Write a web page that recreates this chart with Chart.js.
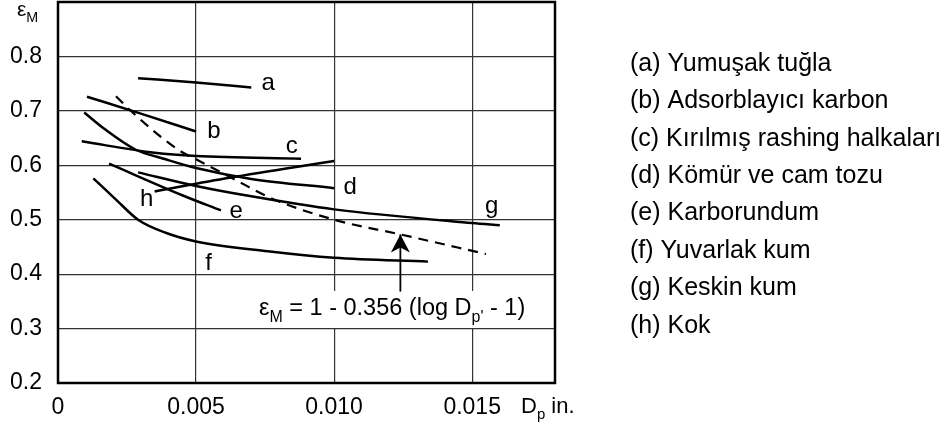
<!DOCTYPE html>
<html><head><meta charset="utf-8">
<script src="https://cdn.jsdelivr.net/npm/chart.js@4"></script>
<style>html,body{margin:0;padding:0;background:#fff;}#wrap{width:950px;height:430px;position:relative;}</style>
</head><body><div id="wrap"><canvas id="c"></canvas></div>
<script>
// ---- data ----
const xTicks = [0, 0.005, 0.010, 0.015];
const xTickLabels = ['0', '0.005', '0.010', '0.015'];
const yTicks = [0.2, 0.3, 0.4, 0.5, 0.6, 0.7, 0.8];
const yTickLabels = ['0.2', '0.3', '0.4', '0.5', '0.6', '0.7', '0.8'];

const aX = [0.0029, 0.0050, 0.0070];
const aY = [0.760, 0.752, 0.743];
const bX = [0.00105, 0.0030, 0.0050];
const bY = [0.726, 0.695, 0.662];
const cX = [0.00086, 0.0035, 0.0050, 0.0088];
const cY = [0.644, 0.623, 0.617, 0.612];
const dX = [0.00095, 0.0017, 0.0028, 0.0039, 0.0050, 0.0070, 0.0100];
const dY = [0.697, 0.666, 0.629, 0.611, 0.595, 0.575, 0.558];
const eX = [0.00185, 0.0045, 0.0059];
const eY = [0.603, 0.545, 0.517];
const fX = [0.00128, 0.0021, 0.0029, 0.0039, 0.0050, 0.0076, 0.0100, 0.0134];
const fY = [0.576, 0.537, 0.500, 0.476, 0.460, 0.442, 0.430, 0.423];
const gX = [0.0029, 0.0050, 0.0070, 0.0100, 0.0150, 0.0160];
const gY = [0.587, 0.562, 0.543, 0.519, 0.494, 0.490];
const hX = [0.0035, 0.0062, 0.0100];
const hY = [0.552, 0.577, 0.608];
const eqX = [0.0021, 0.0027, 0.0044, 0.0050, 0.0064, 0.0077, 0.0100, 0.0124, 0.0155];
const eqY = [0.727, 0.697, 0.627, 0.611, 0.574, 0.540, 0.500, 0.473, 0.437];

const curveNames = ['a', 'b', 'c', 'd', 'e', 'f', 'g', 'h'];
const labelX = [0.00761, 0.00565, 0.00847, 0.01058, 0.00645, 0.00545, 0.01571, 0.00321];
const labelY = [0.751, 0.662, 0.635, 0.559, 0.516, 0.420, 0.525, 0.538];
const legendLabels = ['(a) Yumuşak tuğla', '(b) Adsorblayıcı karbon', '(c) Kırılmış rashing halkaları',
  '(d) Kömür ve cam tozu', '(e) Karborundum', '(f) Yuvarlak kum', '(g) Keskin kum', '(h) Kok'];

const arrowX = [0.0124, 0.0124];
const arrowY = [0.368, 0.473];
const equationAnchor = [0.00728, 0.325];

// ---- chart ----
const FONT = '"Liberation Sans", Arial, sans-serif';
const pts = (xs, ys) => xs.map((x, i) => ({x: x, y: ys[i]}));
const solid = (name, xs, ys) => ({label: name, data: pts(xs, ys), borderColor: '#000', borderWidth: 2.5,
  pointRadius: 0, fill: false, cubicInterpolationMode: 'monotone', tension: 0.4});

const datasets = [
  solid('a', aX, aY), solid('b', bX, bY), solid('c', cX, cY), solid('d', dX, dY),
  solid('e', eX, eY), solid('f', fX, fY), solid('g', gX, gY), solid('h', hX, hY),
  Object.assign(solid('eq', eqX, eqY), {borderDash: [10, 7], borderWidth: 2.2}),
  Object.assign(solid('arrow', arrowX, arrowY), {borderWidth: 1.8, tension: 0})
];

function richText(ctx, parts, x, y, size) {
  let cx = x;
  for (const p of parts) {
    const s = p.sub ? size * 0.68 : size;
    ctx.font = s + 'px ' + FONT;
    ctx.fillText(p.t, cx, y + (p.sub ? size * 0.28 : 0));
    cx += ctx.measureText(p.t).width;
  }
  return cx;
}

const decor = {
  id: 'decor',
  beforeDatasetsDraw(chart) {
    const {ctx, scales: {x, y}} = chart;
    const ex = x.getPixelForValue(equationAnchor[0]);
    const ey = y.getPixelForValue(equationAnchor[1]);
    ctx.save();
    ctx.fillStyle = '#fff';
    ctx.fillRect(ex - 6, ey - 24, 278, 37);
    ctx.restore();
  },
  afterDatasetsDraw(chart) {
    const {ctx, chartArea: ca, scales: {x, y}} = chart;
    ctx.save();
    ctx.strokeStyle = '#000';
    ctx.lineWidth = 2.5;
    ctx.strokeRect(ca.left, ca.top, ca.right - ca.left, ca.bottom - ca.top);
    const ax = x.getPixelForValue(arrowX[1]);
    const ay = y.getPixelForValue(arrowY[1]);
    ctx.fillStyle = '#000';
    ctx.beginPath();
    ctx.moveTo(ax, ay);
    ctx.lineTo(ax + 9.5, ay + 18);
    ctx.lineTo(ax, ay + 13);
    ctx.lineTo(ax - 9.5, ay + 18);
    ctx.closePath();
    ctx.fill();
    ctx.fillStyle = '#000';
    ctx.textAlign = 'center';
    ctx.textBaseline = 'middle';
    ctx.font = '24px ' + FONT;
    curveNames.forEach((n, i) => ctx.fillText(n, x.getPixelForValue(labelX[i]), y.getPixelForValue(labelY[i])));
    ctx.textAlign = 'left';
    ctx.textBaseline = 'alphabetic';
    const ex = x.getPixelForValue(equationAnchor[0]);
    const ey = y.getPixelForValue(equationAnchor[1]);
    richText(ctx, [{t: 'ε'}, {t: 'M', sub: true}, {t: ' = 1 - 0.356 (log D'}, {t: "p'", sub: true}, {t: ' - 1)'}], ex, ey, 23.5);
    ctx.restore();
  },
  afterDraw(chart) {
    const {ctx} = chart;
    ctx.save();
    ctx.fillStyle = '#000';
    ctx.textBaseline = 'alphabetic';
    ctx.textAlign = 'left';
    richText(ctx, [{t: 'ε'}, {t: 'M', sub: true}], 17, 16, 21);
    richText(ctx, [{t: 'D'}, {t: 'p', sub: true}, {t: ' in.'}], 521, 413, 22);
    ctx.font = '25px ' + FONT;
    ctx.textBaseline = 'middle';
    legendLabels.forEach((t, i) => ctx.fillText(t, 630, 64 + i * 37.4));
    ctx.restore();
  }
};

new Chart(document.getElementById('c'), {
  type: 'line',
  data: {datasets: datasets},
  options: {
    responsive: true, maintainAspectRatio: false, animation: false,
    layout: {padding: {left: 0, top: 2, right: 395, bottom: 0}},
    plugins: {legend: {display: false}, tooltip: {enabled: false}},
    scales: {
      x: {
        type: 'linear', min: 0, max: 0.018,
        afterBuildTicks: s => { s.ticks = xTicks.map(v => ({value: v})); },
        afterFit: s => { s.height = 47; s.paddingLeft = 0; s.paddingRight = 0; },
        border: {display: false},
        grid: {color: c => (c.tick && c.tick.value === 0) ? 'rgba(0,0,0,0)' : '#333', lineWidth: 1.2, drawTicks: false},
        ticks: {padding: 11, color: '#000', font: {size: 23, family: FONT}, maxRotation: 0,
          callback: (v, i) => xTickLabels[i]}
      },
      y: {
        type: 'linear', min: 0.2, max: 0.9,
        afterBuildTicks: s => { s.ticks = yTicks.map(v => ({value: v})); },
        afterFit: s => { s.width = 58; s.paddingTop = 0; s.paddingBottom = 0; },
        border: {display: false},
        grid: {color: c => (c.tick && Math.abs(c.tick.value - 0.2) < 1e-9) ? 'rgba(0,0,0,0)' : '#333', lineWidth: 1.2, drawTicks: false},
        ticks: {padding: 16, color: '#000', font: {size: 23, family: FONT},
          callback: (v, i) => yTickLabels[i]}
      }
    }
  },
  plugins: [decor]
});
</script></body></html>
